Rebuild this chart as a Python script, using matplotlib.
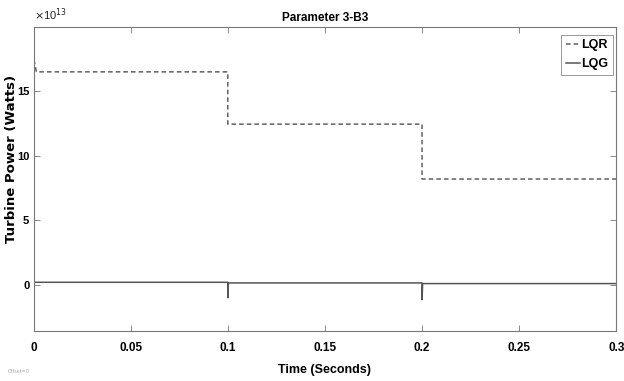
import matplotlib
matplotlib.use("Agg")
import matplotlib.pyplot as plt
import numpy as np
from matplotlib import font_manager

names = {f.name for f in font_manager.fontManager.ttflist}
narrow = "Liberation Sans Narrow" if "Liberation Sans Narrow" in names else "Liberation Sans"

# Data (values in units of 1e13 W)
lqr_t = [0.0, 0.0004, 0.0015, 0.1, 0.1, 0.2, 0.2, 0.3]
lqr_p = [0.0, 17.3, 16.5, 16.5, 12.45, 12.45, 8.2, 8.2]
lqg_t = [0.0, 0.0004, 0.1, 0.1, 0.1003, 0.2, 0.2, 0.2003, 0.3]
lqg_p = [0.0, 0.2, 0.2, -1.0, 0.15, 0.15, -1.15, 0.1, 0.1]
xticks = [0, 0.05, 0.1, 0.15, 0.2, 0.25, 0.3]
xticklabels = ["0", "0.05", "0.1", "0.15", "0.2", "0.25", "0.3"]
yticks = [0, 5, 10, 15]
scale = 1e13

fig = plt.figure(figsize=(6.24, 3.81), dpi=100)
ax = fig.add_axes([0.0537, 0.132, 0.934, 0.798])

ax.plot(lqr_t, np.array(lqr_p) * scale, color="#606060", lw=1.1, ls=(0, (3, 2)), label="LQR")
ax.plot(lqg_t, np.array(lqg_p) * scale, color="#555555", lw=1.1, ls="-", label="LQG")

ax.set_xlim(0, 0.3)
ax.set_ylim(-3.55e13, 2.0e14)
ax.set_xticks(xticks)
ax.set_xticklabels(xticklabels)
ax.set_yticks([v * scale for v in yticks])
ax.set_yticklabels([str(v) for v in yticks])
ax.tick_params(direction="in", top=True, right=True, length=4, width=0.6, color="#777777",
               labelsize=8.5)
ax.tick_params(axis="x", pad=8)
ax.tick_params(axis="y", pad=3, labelsize=8)
for lab in ax.get_xticklabels() + ax.get_yticklabels():
    lab.set_fontfamily(narrow)
    lab.set_fontweight("bold")
for s in ax.spines.values():
    s.set_color("#777777")
    s.set_linewidth(0.8)

ax.text(0.0, 1.012, r"$\times$10$^{13}$", transform=ax.transAxes, fontsize=8,
        family=narrow, va="bottom", ha="left", color="#222222")
ax.set_title("Parameter 3-B3", fontsize=8.5, family=narrow, fontweight="bold", pad=4)
ax.set_xlabel("Time (Seconds)", fontsize=9, family=narrow, fontweight="bold")
ax.xaxis.set_label_coords(0.5, -0.108)
ax.set_ylabel("Turbine Power (Watts)", fontsize=9.5, family="DejaVu Sans", fontweight="bold")
ax.yaxis.set_label_coords(-0.026, 0.565)

leg = ax.legend(loc="upper right", prop={"family": narrow, "weight": "bold", "size": 9},
                handlelength=1.1, handletextpad=0.15, borderpad=0.35, labelspacing=0.55,
                borderaxespad=0, fancybox=False, framealpha=1, edgecolor="#888888",
                bbox_to_anchor=(0.994, 0.973))
leg.get_frame().set_linewidth(0.6)

fig.text(0.012, 0.02, "Offset=0", fontsize=3.5, color="#aaaaaa")

fig.savefig("out.png", dpi=100)
